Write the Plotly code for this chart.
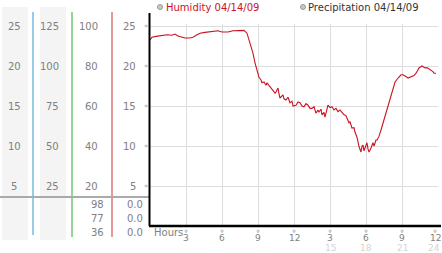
import plotly.graph_objects as go

# ---------------- data ----------------
hours = [0.0, 0.17, 0.5, 0.83, 1.42, 1.83, 2.08, 2.33, 2.67, 2.92, 3.33, 3.58, 3.92, 4.17,
         4.58, 5.0, 5.67, 6.0, 6.5, 6.92, 7.5, 7.83, 8.08, 8.25, 8.42, 8.58, 8.75, 8.92,
         9.08, 9.25, 9.33, 9.5, 9.67, 9.75, 10.0, 10.17, 10.25, 10.42, 10.5, 10.67, 10.75,
         10.83, 11.08, 11.17, 11.33, 11.5, 11.67, 11.83, 11.92, 12.17, 12.33, 12.5, 12.67,
         12.83, 13.0, 13.17, 13.33, 13.5, 13.67, 13.83, 14.0, 14.08, 14.25, 14.33, 14.5,
         14.58, 14.75, 14.83, 15.0, 15.17, 15.33, 15.5, 15.67, 15.83, 16.0, 16.17, 16.33,
         16.42, 16.58, 16.67, 16.83, 17.0, 17.08, 17.25, 17.33, 17.42, 17.5, 17.58, 17.67,
         17.75, 17.83, 17.92, 18.08, 18.17, 18.25, 18.42, 18.5, 18.58, 18.67, 18.83, 18.92,
         19.08, 19.25, 19.5, 19.75, 20.0, 20.25, 20.42, 20.67, 20.92, 21.08, 21.25, 21.42,
         21.5, 21.67, 21.83, 22.0, 22.17, 22.42, 22.67, 22.83, 22.92, 23.08, 23.17, 23.42,
         23.58, 23.67, 23.83]
humidity = [23.25, 23.6, 23.7, 23.75, 23.9, 23.85, 24.0, 23.75, 23.6, 23.5, 23.5, 23.6, 23.9, 24.1,
            24.2, 24.25, 24.4, 24.25, 24.25, 24.4, 24.45, 24.45, 24.1, 23.25, 22.4, 21.6, 20.4, 19.5,
            18.6, 18.25, 17.9, 18.0, 17.6, 17.9, 17.4, 17.2, 17.0, 16.6, 16.75, 17.25, 16.5,
            16.0, 16.4, 15.9, 15.75, 16.1, 15.4, 15.6, 15.0, 15.1, 15.5, 15.4, 15.0,
            14.9, 15.3, 15.1, 14.7, 14.7, 14.9, 14.1, 14.5, 14.25, 14.6, 13.9, 14.2,
            13.6, 14.6, 15.1, 14.8, 14.9, 14.5, 14.7, 14.3, 14.5, 14.2, 13.9, 13.8,
            13.5, 12.9, 13.0, 12.25, 12.3, 11.75, 11.1, 10.4, 9.9, 9.6, 9.25, 10.0,
            10.1, 9.4, 9.75, 10.4, 9.6, 9.25, 9.75, 10.2, 10.4, 10.0, 10.75, 10.75,
            11.2, 12.0, 13.25, 14.75, 15.75, 17.25, 18.0, 18.5, 18.9, 18.9, 18.8, 18.6,
            18.5, 18.6, 18.6, 18.8, 19.1, 19.75, 20.0, 19.8, 19.75, 19.8, 19.7, 19.5,
            19.3, 19.1, 19.1]

ytick_vals = [25, 20, 15, 10, 5]
col1_labels = ["25", "20", "15", "10", "5"]
col2_labels = ["125", "100", "75", "50", "25"]
col3_labels = ["100", "80", "60", "40", "20"]
col4_labels = ["25", "20", "15", "10", "5"]
extra_col3 = ["98", "77", "36"]
extra_col4 = ["0.0", "0.0", "0.0"]
xtick_hours = [3, 6, 9, 12, 15, 18, 21, 24]
xtick_labels = ["3", "6", "9", "12", "3", "6", "9", "12"]
xtick2_hours = [15, 18, 21, 24]
xtick2_labels = ["15", "18", "21", "24"]
legend_names = ["Humidity 04/14/09", "Precipitation 04/14/09"]

# ---------------- figure ----------------
FONT = "DejaVu Sans"
GREY = "#808080"

fig = go.Figure()
fig.add_trace(go.Scatter(x=hours, y=humidity, mode="lines",
                         line=dict(color="#cc1122", width=1.1), hoverinfo="skip",
                         showlegend=False))

shapes = []
def pxrect(x0, x1, y0, y1, fill):
    shapes.append(dict(type="rect", xref="paper", xsizemode="pixel", xanchor=0,
                       x0=x0 - 150, x1=x1 - 150,
                       yref="paper", ysizemode="pixel", yanchor=0,
                       y0=226 - y1, y1=226 - y0,
                       fillcolor=fill, line=dict(color=fill, width=0), layer="below"))

def pxline(x0, y0, x1, y1, color, w):
    shapes.append(dict(type="line", xref="paper", xsizemode="pixel", xanchor=0,
                       x0=x0 - 150, x1=x1 - 150,
                       yref="paper", ysizemode="pixel", yanchor=0,
                       y0=226 - y0, y1=226 - y1,
                       line=dict(color=color, width=w), layer="above"))

pxrect(2, 28, 7, 240, "#f4f4f4")
pxrect(40, 66, 7, 240, "#f4f4f4")
pxline(33, 12, 33, 235, "#3399cc", 1)
pxline(72, 12, 72, 237, "#33aa33", 1)
pxline(112, 12, 112, 237, "#cc3333", 1)
pxline(0, 197, 150, 197, "#aaaaaa", 2)
pxline(149.5, 13, 149.5, 226, "#000000", 2)
pxline(149, 226, 441, 226, "#000000", 2.5)
for cx in (160, 303):
    shapes.append(dict(type="circle", xref="paper", xsizemode="pixel", xanchor=0,
                       x0=cx - 150 - 2.5, x1=cx - 150 + 2.5,
                       yref="paper", ysizemode="pixel", yanchor=1,
                       y0=24 - 7 - 2.5, y1=24 - 7 + 2.5,
                       fillcolor="#c8c8c8", line=dict(color="#999999", width=1)))

ann = []
def txt(text, x, y, xanchor, xshift, yshift, color=GREY, size=10, yref="y", xref="paper", angle=0):
    ann.append(dict(text=text, x=x, y=y, xref=xref, yref=yref, xanchor=xanchor, yanchor="middle",
                    xshift=xshift, yshift=yshift, showarrow=False, borderpad=0, textangle=angle,
                    font=dict(family=FONT, size=size, color=color)))

for v, a, b, c, d in zip(ytick_vals, col1_labels, col2_labels, col3_labels, col4_labels):
    txt(a, 0, v, "center", 14 - 150, 0)
    txt(b, 0, v, "right", 60 - 150, 0)
    txt(c, 0, v, "right", 99 - 150, 0)
    txt(d, 0, v, "right", 137 - 150, 0)
    txt("»", 0, v, "center", 146 - 150, 0, color="#999999", size=7)

for i, (a, b) in enumerate(zip(extra_col3, extra_col4)):
    ys = [204, 218, 232][i]
    txt(a, 0, 0, "right", 105 - 150, 226 - ys)
    txt(b, 0, 0, "right", 144 - 150, 226 - ys)

txt("Hours", 0, 0, "left", 3, -6, yref="paper")
for h, lab in zip(xtick_hours, xtick_labels):
    sh = -3 if h == 24 else 0
    txt(lab, h, 0, "center", sh, -12, xref="x", yref="paper", size=9)
    txt("»", h, 0, "center", sh, -5, xref="x", yref="paper", color="#888888", size=7, angle=90)
for h, lab in zip(xtick2_hours, xtick2_labels):
    sh = -4 if h == 24 else 0
    txt(lab, h, 0, "center", sh, -22, xref="x", yref="paper", color="#d4d4d4", size=9)

txt(legend_names[0], 0, 1, "left", 15, 17, color="#cc1122", yref="paper")
txt(legend_names[1], 0, 1, "left", 157, 17, color="#333333", yref="paper")

fig.update_layout(
    width=442, height=253,
    margin=dict(l=150, r=4, t=24, b=27, pad=0),
    paper_bgcolor="white", plot_bgcolor="white",
    shapes=shapes, annotations=ann,
    xaxis=dict(range=[0, 24], tick0=0, dtick=3, showgrid=True, gridcolor="#dddddd", gridwidth=1,
               showticklabels=False, zeroline=False, showline=False, ticks="", automargin=False,
               fixedrange=True),
    yaxis=dict(range=[0, 25.25], tick0=0, dtick=5, showgrid=True, gridcolor="#dddddd", gridwidth=1,
               showticklabels=False, zeroline=False, showline=False, ticks="", automargin=False,
               fixedrange=True),
    showlegend=False,
)

fig.write_html("out.html", config={"displayModeBar": False})
